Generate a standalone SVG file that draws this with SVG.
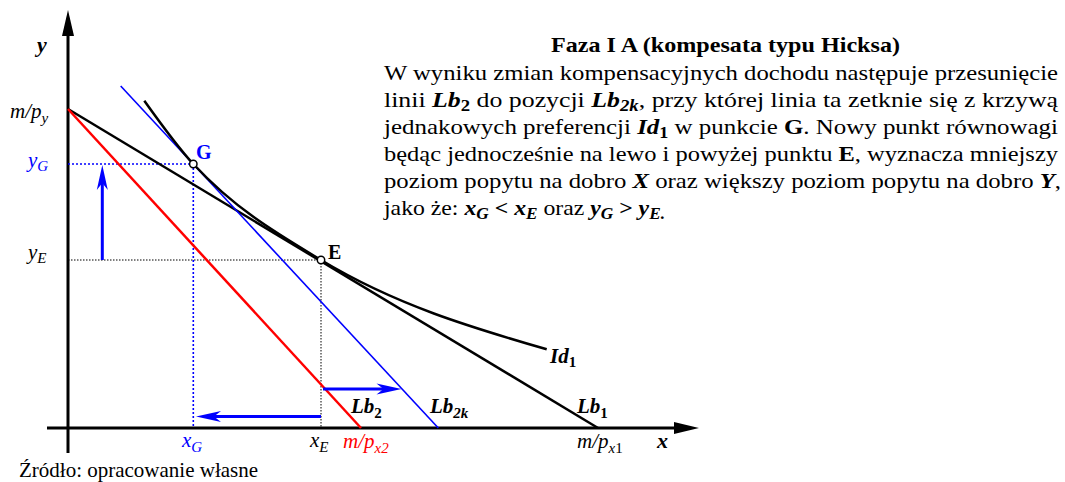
<svg xmlns="http://www.w3.org/2000/svg" width="1065" height="482" viewBox="0 0 1065 482" font-family="'Liberation Serif', Tinos, 'Times New Roman', 'DejaVu Serif', serif">
<style>
text, tspan{font-family:'Liberation Serif', Tinos, 'Times New Roman', 'DejaVu Serif', serif}
text{font-size:21px;fill:#000}
.body{font-size:22px}
.i{font-style:italic}
.b{font-weight:bold}
.bi{font-weight:bold;font-style:italic}
.s{font-size:15px}
.body .s{font-size:16px}
.blu{fill:#00f}
.rd{fill:#f00}
.ax{stroke:#000;stroke-width:3;fill:none}
.k{stroke:#000;stroke-width:2.5;fill:none}
.r{stroke:#f00;stroke-width:2.5;fill:none}
.bl{stroke:#00f;stroke-width:1.6;fill:none}
.dk{stroke:#000;stroke-width:1;stroke-dasharray:1.5 1.5;fill:none}
.db{stroke:#00f;stroke-width:1.6;stroke-dasharray:2 2;fill:none}
.ar{stroke:#00f;stroke-width:3;fill:none;marker-end:url(#ab)}
.pt{fill:#fff;stroke:#000;stroke-width:1.5}
</style>
<defs>
<marker id="ab" markerWidth="30" markerHeight="14" viewBox="-26 -7 30 14" refX="-10" refY="0" orient="auto" markerUnits="userSpaceOnUse">
<path d="M0,0 L-25,-5.5 L-18,0 L-25,5.5 Z" fill="#00f"/>
</marker>
</defs>
<g id="axes">
<line class="ax" x1="68" y1="453" x2="68" y2="30"/>
<polygon points="68,10 62,36 74,36" fill="#000"/>
<line class="ax" x1="47" y1="428" x2="680" y2="428"/>
<polygon points="699,428 674,422 674,434" fill="#000"/>
</g>
<g id="connectors">
<line class="dk" x1="68" y1="260" x2="321" y2="260"/>
<line class="dk" x1="321" y1="260" x2="321" y2="428"/>
<line class="db" x1="68" y1="164" x2="193.3" y2="164"/>
<line class="db" x1="193.3" y1="164" x2="193.3" y2="428"/>
<line id="Lb1" class="k" x1="68" y1="109" x2="598" y2="428"/>
<line id="Lb2" class="r" x1="68" y1="109" x2="361" y2="428"/>
<line id="Lb2k" class="bl" x1="120.7" y1="86" x2="438.3" y2="428"/>
<path id="Id1" class="k" d="M144.3,100.7 C160.6,123.5 177,146.4 193.3,164 C235.9,209.9 278.4,234.3 321,260 C396.2,305.3 471.5,327.5 546.7,349.3"/>
<line class="ar" x1="102.3" y1="260" x2="102.3" y2="175"/>
<line class="ar" x1="321" y1="416.5" x2="206" y2="416.5"/>
<line class="ar" x1="323" y1="389" x2="391.5" y2="389"/>
</g>
<g id="point-G">
<circle class="pt" cx="193.3" cy="164" r="3.7"/>
<text class="b blu" x="196" y="159" style="font-size:20px">G</text>
</g>
<g id="point-E">
<circle class="pt" cx="321" cy="260" r="3.7"/>
<text class="b" x="328" y="259" style="font-size:20px">E</text>
</g>
<g id="labels">
<text class="bi" x="37" y="52" style="font-size:22px">y</text>
<text class="i" x="10" y="118">m/p<tspan class="s" dy="5">y</tspan></text>
<text class="i blu" x="28" y="167">y<tspan class="s blu" dy="4">G</tspan></text>
<text class="i" x="28" y="259">y<tspan class="s" dy="4">E</tspan></text>
<text class="i blu" x="182" y="447">x<tspan class="s blu" dy="5">G</tspan></text>
<text class="i" x="310" y="447">x<tspan class="s" dy="5">E</tspan></text>
<text class="i rd" x="343" y="448">m/p<tspan class="s rd" dy="5">x2</tspan></text>
<text class="i" x="577" y="448">m/p<tspan class="s" dy="5">x</tspan><tspan class="s" style="font-style:normal">1</tspan></text>
<text class="bi" x="657" y="448" style="font-size:22px">x</text>
<text class="bi" x="351" y="413">Lb<tspan class="s b" style="font-style:normal" dy="5">2</tspan></text>
<text class="bi" x="430" y="413">Lb<tspan class="s" dy="5">2k</tspan></text>
<text class="bi" x="577" y="413">Lb<tspan class="s b" style="font-style:normal" dy="5">1</tspan></text>
<text class="bi" x="550" y="363">Id<tspan class="s b" style="font-style:normal" dy="4">1</tspan></text>
</g>
<g id="description" class="body">
<text class="b body" x="551" y="52" textLength="349" lengthAdjust="spacingAndGlyphs">Faza I A (kompesata typu Hicksa)</text>
<text class="body" x="384" y="80" textLength="674" lengthAdjust="spacingAndGlyphs">W wyniku zmian kompensacyjnych dochodu następuje przesunięcie</text>
<text class="body" x="384" y="107" textLength="674" lengthAdjust="spacingAndGlyphs">linii <tspan class="bi">Lb</tspan><tspan class="b s" dy="4">2</tspan><tspan dy="-4"> do pozycji </tspan><tspan class="bi">Lb</tspan><tspan class="bi s" dy="4">2k</tspan><tspan dy="-4">, przy której linia ta zetknie się z krzywą</tspan></text>
<text class="body" x="384" y="134" textLength="674" lengthAdjust="spacingAndGlyphs">jednakowych preferencji <tspan class="bi">Id</tspan><tspan class="b s" dy="4">1</tspan><tspan dy="-4"> w punkcie </tspan><tspan class="b">G</tspan>. Nowy punkt równowagi</text>
<text class="body" x="384" y="161" textLength="674" lengthAdjust="spacingAndGlyphs">będąc jednocześnie na lewo i powyżej punktu <tspan class="b">E</tspan>, wyznacza mniejszy</text>
<text class="body" x="384" y="188" textLength="677" lengthAdjust="spacingAndGlyphs">poziom popytu na dobro <tspan class="bi">X</tspan> oraz większy poziom popytu na dobro <tspan class="bi">Y</tspan>,</text>
<text class="body" x="384" y="215" textLength="281" lengthAdjust="spacingAndGlyphs">jako że: <tspan class="bi">x</tspan><tspan class="bi s" dy="4">G</tspan><tspan dy="-4" class="b"> &lt; </tspan><tspan class="bi">x</tspan><tspan class="bi s" dy="4">E</tspan><tspan dy="-4"> oraz </tspan><tspan class="bi">y</tspan><tspan class="bi s" dy="4">G</tspan><tspan dy="-4" class="b"> &gt; </tspan><tspan class="bi">y</tspan><tspan class="bi s" dy="4">E.</tspan></text>
</g>
<text x="19" y="477">Źródło: opracowanie własne</text>
</svg>
